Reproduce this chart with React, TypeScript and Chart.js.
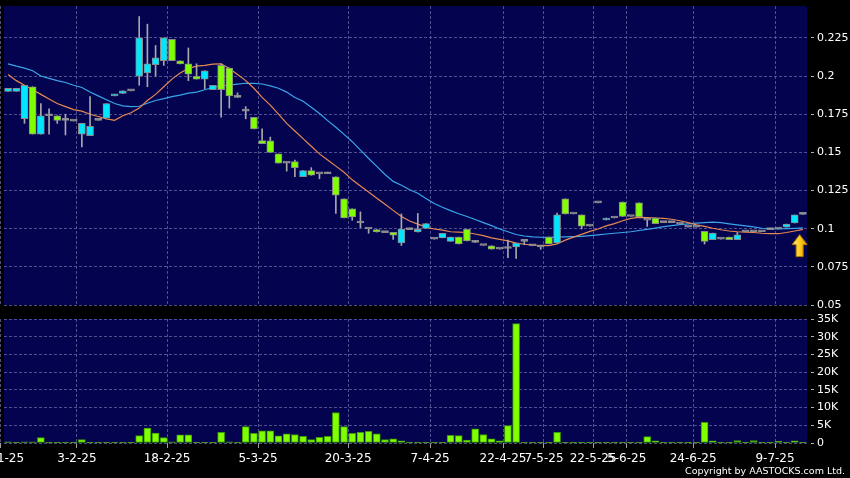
import React, { useEffect, useRef } from 'react';
import { Chart, registerables } from 'chart.js';

Chart.register(...registerables);

// ---- data ----
const opens = [
  0.190, 0.190, 0.172, 0.193, 0.162, 0.174, 0.174, 0.171, 0.1705, 0.162,
  0.161, 0.171, 0.1724, 0.187, 0.1886, 0.1903, 0.200, 0.202, 0.2075, 0.210,
  0.224, 0.210, 0.208, 0.1998, 0.198, 0.191, 0.207, 0.2053, 0.186, 0.177,
  0.173, 0.1577, 0.1575, 0.149, 0.143, 0.144, 0.134, 0.138, 0.136, 0.136,
  0.134, 0.1195, 0.113, 0.1037, 0.0998, 0.0994, 0.0974, 0.0976, 0.0906, 0.0994,
  0.0978, 0.1002, 0.0932, 0.094, 0.0917, 0.0945, 0.0996, 0.091, 0.089, 0.0888,
  0.0866, 0.087, 0.088, 0.0917, 0.0888, 0.088, 0.0945, 0.0906, 0.1195, 0.1096,
  0.109, 0.1017, 0.1169, 0.1057, 0.107, 0.1175, 0.108, 0.117, 0.1055, 0.107,
  0.104, 0.104, 0.103, 0.101, 0.101, 0.0982, 0.0928, 0.0932, 0.0945, 0.0928,
  0.098, 0.098, 0.098, 0.0994, 0.0998, 0.101, 0.1037, 0.1094,
];
const highs = [
  0.192, 0.192, 0.194, 0.193, 0.182, 0.1785, 0.174, 0.175, 0.1705, 0.169,
  0.1866, 0.171, 0.182, 0.188, 0.1903, 0.1903, 0.239, 0.234, 0.220, 0.225,
  0.224, 0.210, 0.2184, 0.208, 0.2035, 0.194, 0.208, 0.2053, 0.189, 0.180,
  0.173, 0.1654, 0.160, 0.149, 0.143, 0.145, 0.138, 0.140, 0.136, 0.137,
  0.134, 0.1195, 0.113, 0.111, 0.0998, 0.0994, 0.0974, 0.0976, 0.1097, 0.0994,
  0.110, 0.1033, 0.0932, 0.097, 0.0945, 0.0945, 0.0996, 0.0915, 0.089, 0.0888,
  0.0866, 0.0925, 0.0906, 0.0917, 0.0888, 0.088, 0.0945, 0.1103, 0.1195, 0.1096,
  0.109, 0.1017, 0.1169, 0.107, 0.107, 0.1175, 0.108, 0.117, 0.1055, 0.107,
  0.104, 0.104, 0.103, 0.101, 0.101, 0.0982, 0.0971, 0.0932, 0.0945, 0.0975,
  0.098, 0.098, 0.098, 0.0994, 0.0998, 0.103, 0.109, 0.1094,
];
const lows = [
  0.190, 0.190, 0.169, 0.162, 0.162, 0.162, 0.169, 0.1614, 0.1705, 0.1535,
  0.161, 0.171, 0.1724, 0.187, 0.1886, 0.1903, 0.194, 0.193, 0.200, 0.207,
  0.210, 0.208, 0.197, 0.198, 0.1917, 0.191, 0.173, 0.179, 0.186, 0.172,
  0.1654, 0.1557, 0.150, 0.143, 0.1377, 0.134, 0.134, 0.135, 0.1327, 0.136,
  0.110, 0.107, 0.1055, 0.1007, 0.097, 0.0978, 0.0974, 0.093, 0.089, 0.0994,
  0.0978, 0.1002, 0.0932, 0.094, 0.0917, 0.090, 0.092, 0.091, 0.089, 0.0866,
  0.0866, 0.081, 0.0805, 0.0895, 0.0888, 0.0865, 0.090, 0.0906, 0.1096, 0.1096,
  0.0998, 0.1017, 0.1169, 0.1057, 0.107, 0.108, 0.108, 0.1077, 0.1015, 0.1033,
  0.104, 0.104, 0.103, 0.101, 0.101, 0.090, 0.0928, 0.0932, 0.0928, 0.0928,
  0.098, 0.098, 0.098, 0.0994, 0.0998, 0.101, 0.1037, 0.1094,
];
const closes = [
  0.192, 0.192, 0.194, 0.162, 0.174, 0.174, 0.171, 0.171, 0.1705, 0.169,
  0.167, 0.171, 0.182, 0.188, 0.1903, 0.1903, 0.225, 0.208, 0.212, 0.225,
  0.210, 0.208, 0.2013, 0.198, 0.2035, 0.194, 0.191, 0.187, 0.186, 0.177,
  0.1654, 0.1557, 0.150, 0.143, 0.143, 0.140, 0.138, 0.135, 0.136, 0.136,
  0.122, 0.107, 0.1077, 0.1037, 0.0998, 0.0978, 0.0974, 0.0958, 0.0998, 0.0994,
  0.0996, 0.1033, 0.0932, 0.097, 0.0945, 0.090, 0.092, 0.091, 0.089, 0.0866,
  0.0866, 0.087, 0.0906, 0.0917, 0.0888, 0.088, 0.090, 0.109, 0.1096, 0.1096,
  0.1017, 0.1017, 0.1169, 0.107, 0.107, 0.108, 0.108, 0.1077, 0.1055, 0.1033,
  0.104, 0.104, 0.103, 0.101, 0.101, 0.0917, 0.0971, 0.0932, 0.0928, 0.096,
  0.098, 0.098, 0.098, 0.0994, 0.0998, 0.103, 0.109, 0.1094,
];
const volumes = [
  300, 50, 300, 300, 1500, 50, 100, 200, 50, 1000,
  50, 50, 50, 50, 50, 50, 2100, 4200, 2800, 1500,
  300, 2300, 2300, 50, 200, 50, 3000, 300, 50, 4600,
  2700, 3400, 3400, 2000, 2600, 2400, 1900, 1000, 1600, 1900,
  8600, 4600, 2700, 3000, 3300, 2600, 1000, 1200, 600, 200,
  50, 50, 50, 200, 2200, 2100, 800, 4000, 2400, 1200,
  600, 4900, 33700, 200, 200, 200, 50, 3000, 100, 50,
  50, 200, 200, 50, 200, 50, 50, 200, 1800, 600,
  50, 50, 50, 100, 100, 5800, 600, 100, 50, 700,
  50, 700, 50, 200, 500, 50, 600, 50,
];
const maShort = [
  0.201, 0.197, 0.194, 0.191, 0.188, 0.185, 0.182, 0.180, 0.178, 0.177,
  0.175, 0.1735, 0.172, 0.171, 0.174, 0.176, 0.179, 0.184, 0.188, 0.193,
  0.198, 0.202, 0.205, 0.2065, 0.207, 0.2078, 0.208, 0.205, 0.201, 0.197,
  0.192, 0.186, 0.181, 0.175, 0.169, 0.164, 0.159, 0.154, 0.149, 0.145,
  0.141, 0.137, 0.132, 0.128, 0.124, 0.120, 0.116, 0.112, 0.108, 0.105,
  0.103, 0.101, 0.0998, 0.099, 0.098, 0.0978, 0.0975, 0.0965, 0.0955, 0.094,
  0.093, 0.092, 0.0905, 0.0898, 0.0893, 0.089, 0.0889, 0.090, 0.0925, 0.0945,
  0.0963, 0.0982, 0.0998, 0.1018, 0.1033, 0.1052, 0.1068, 0.1074, 0.1072, 0.107,
  0.1068, 0.1062, 0.1052, 0.104, 0.1025, 0.1015, 0.1003, 0.0993, 0.0985, 0.098,
  0.0977, 0.0975, 0.097, 0.0967, 0.0967, 0.0975, 0.0985, 0.0995,
];
const maLong = [
  0.208, 0.2065, 0.2052, 0.2035, 0.200, 0.1985, 0.197, 0.1958, 0.194, 0.1925,
  0.1895, 0.187, 0.1845, 0.182, 0.1805, 0.180, 0.1802, 0.1822, 0.184, 0.1852,
  0.1865, 0.1875, 0.1888, 0.1895, 0.191, 0.1925, 0.1935, 0.194, 0.1947, 0.1953,
  0.1952, 0.1948, 0.1936, 0.192, 0.1895, 0.186, 0.1835, 0.1795, 0.1755, 0.1708,
  0.1665, 0.1618, 0.157, 0.1515, 0.146, 0.1408, 0.1355, 0.131, 0.1285, 0.1255,
  0.1232, 0.1198, 0.1165, 0.114, 0.1118, 0.1098, 0.108, 0.106, 0.104, 0.102,
  0.0998, 0.098, 0.0962, 0.0952, 0.0946, 0.0944, 0.0943, 0.0945, 0.0946, 0.0948,
  0.095, 0.0955, 0.096, 0.0965, 0.097, 0.0975, 0.098, 0.0988, 0.0996, 0.1004,
  0.1013, 0.102, 0.1026, 0.1032, 0.1036, 0.104, 0.1043, 0.104, 0.1032, 0.1025,
  0.1018, 0.1012, 0.1003, 0.0998, 0.0998, 0.100, 0.1002, 0.1005,
];
// date tick labels and where they fall, in candle-index units
const xTickLabels = ['17-1-25', '3-2-25', '18-2-25', '5-3-25', '20-3-25', '7-4-25', '22-4-25', '7-5-25', '22-5-25', '5-6-25', '24-6-25', '9-7-25'];
const xTickIdx = [-0.9, 8.4, 19.4, 30.5, 41.5, 51.5, 60.4, 65.4, 71.4, 75.5, 83.6, 93.6];
// latest-price marker (index, top value, bottom value)
const arrowIdx = 96.6;
const arrowTop = 0.0961;
const arrowBottom = 0.0817;

const FONT = 'DejaVu Sans';
const NAVY = '#03034f';
const GRID = 'rgba(105,105,165,0.75)';
const CYAN = '#00e6ff';
const LIME = '#80ff00';

const plotBg = {
  id: 'plotBg',
  beforeDraw(chart: any) {
    const { ctx, chartArea } = chart;
    ctx.save();
    ctx.fillStyle = NAVY;
    ctx.fillRect(chartArea.left, chartArea.top, chartArea.right - chartArea.left, chartArea.bottom - chartArea.top);
    ctx.restore();
  },
};

const arrowPlugin = {
  id: 'arrowMarker',
  afterDatasetsDraw(chart: any) {
    const { ctx } = chart;
    const xs = chart.scales.x;
    const ys = chart.scales.y;
    const cx = xs.getPixelForValue(arrowIdx);
    const top = ys.getPixelForValue(arrowTop);
    const bot = ys.getPixelForValue(arrowBottom);
    const headH = 10;
    const headW = 7.5;
    const shaftW = 3.5;
    ctx.save();
    const g = ctx.createLinearGradient(cx - headW, 0, cx + headW, 0);
    g.addColorStop(0, '#ffe680');
    g.addColorStop(0.5, '#ffcc1a');
    g.addColorStop(1, '#d99a00');
    ctx.beginPath();
    ctx.moveTo(cx, top);
    ctx.lineTo(cx + headW, top + headH);
    ctx.lineTo(cx + shaftW, top + headH);
    ctx.lineTo(cx + shaftW, bot);
    ctx.lineTo(cx - shaftW, bot);
    ctx.lineTo(cx - shaftW, top + headH);
    ctx.lineTo(cx - headW, top + headH);
    ctx.closePath();
    ctx.fillStyle = g;
    ctx.fill();
    ctx.strokeStyle = '#b07800';
    ctx.lineWidth = 1;
    ctx.stroke();
    ctx.restore();
  },
};

function xAxis(showLabels: boolean) {
  return {
    type: 'category' as const,
    offset: true,
    afterBuildTicks(scale: any) {
      scale.ticks = xTickIdx.map((v) => ({ value: v }));
    },
    afterFit(scale: any) {
      scale.paddingLeft = 0;
      scale.paddingRight = 0;
      scale.height = showLabels ? 35 : 0;
    },
    grid: {
      display: true,
      offset: false,
      color: GRID,
      lineWidth: 1,
      drawTicks: showLabels,
      tickLength: 5,
      tickColor: '#a0a0a0',
      tickBorderDash: [],
    },
    border: { display: false, dash: [3, 2] },
    ticks: {
      display: showLabels,
      autoSkip: false,
      maxRotation: 0,
      minRotation: 0,
      padding: 4,
      color: '#ffffff',
      font: { family: FONT, size: 12 },
      callback: (_v: any, i: number) => xTickLabels[i],
    },
  };
}

function yAxisCommon() {
  return {
    position: 'right' as const,
    afterFit(scale: any) {
      scale.width = 43;
      scale.paddingTop = 0;
      scale.paddingBottom = 0;
    },
    grid: {
      color: GRID,
      lineWidth: 1,
      drawTicks: true,
      tickLength: 7,
      tickColor: '#b0b0b0',
      tickBorderDash: [0, 4, 3, 100],
    },
    border: { display: false, dash: [3, 2] },
  };
}

export default function App() {
  const priceRef = useRef<HTMLCanvasElement>(null);
  const volRef = useRef<HTMLCanvasElement>(null);

  useEffect(() => {
    document.body.style.margin = '0';
    document.body.style.background = '#000';
    const labels = closes.map((_, i) => String(i + 1));
    const bodyColors = closes.map((c, i) => (c > opens[i] ? CYAN : c < opens[i] ? LIME : '#a8a8a8'));

    const priceChart = new Chart(priceRef.current as HTMLCanvasElement, {
      type: 'bar',
      data: {
        labels,
        datasets: [
          {
            type: 'bar',
            label: 'body',
            data: opens.map((o, i) => [o, closes[i]]) as any,
            backgroundColor: bodyColors,
            borderColor: '#8a8a8a',
            borderWidth: 1,
            borderSkipped: false,
            barThickness: 7,
            minBarLength: 2,
            grouped: false,
            order: 0,
          } as any,
          {
            type: 'bar',
            label: 'wick',
            data: lows.map((l, i) => [l, highs[i]]) as any,
            backgroundColor: '#a8a8a8',
            borderWidth: 0,
            barThickness: 1,
            grouped: false,
            order: 1,
          } as any,
          {
            type: 'line',
            label: 'MA short',
            data: maShort,
            borderColor: '#e88a50',
            borderWidth: 1.2,
            pointRadius: 0,
            tension: 0,
            order: 2,
          } as any,
          {
            type: 'line',
            label: 'MA long',
            data: maLong,
            borderColor: '#3aa6ea',
            borderWidth: 1.2,
            pointRadius: 0,
            tension: 0,
            order: 3,
          } as any,
        ],
      },
      options: {
        responsive: false,
        animation: false,
        events: [],
        layout: { padding: { left: 4, top: 6, right: 0, bottom: 7 } },
        plugins: { legend: { display: false }, tooltip: { enabled: false } },
        scales: {
          x: xAxis(false) as any,
          y: {
            ...yAxisCommon(),
            min: 0.05,
            max: 0.2459,
            ticks: {
              stepSize: 0.025,
              includeBounds: false,
              padding: 3,
              color: '#ffffff',
              font: { family: FONT, size: 11 },
              callback: (v: any) => String(+Number(v).toFixed(3)),
            },
          } as any,
        },
      },
      plugins: [plotBg, arrowPlugin],
    });

    const volChart = new Chart(volRef.current as HTMLCanvasElement, {
      type: 'bar',
      data: {
        labels,
        datasets: [
          {
            label: 'volume',
            data: volumes,
            backgroundColor: LIME,
            borderColor: '#3c9a00',
            borderWidth: 1,
            borderSkipped: false,
            barThickness: 7,
          } as any,
        ],
      },
      options: {
        responsive: false,
        animation: false,
        events: [],
        layout: { padding: { left: 4, top: 7, right: 0, bottom: 0 } },
        plugins: { legend: { display: false }, tooltip: { enabled: false } },
        scales: {
          x: xAxis(true) as any,
          y: {
            ...yAxisCommon(),
            min: 0,
            max: 35000,
            ticks: {
              stepSize: 5000,
              padding: 3,
              color: '#ffffff',
              font: { family: FONT, size: 11 },
              callback: (v: any) => (Number(v) === 0 ? '0' : Number(v) / 1000 + 'K'),
            },
          } as any,
        },
      },
      plugins: [plotBg],
    });

    return () => {
      priceChart.destroy();
      volChart.destroy();
    };
  }, []);

  return (
    <div style={{ position: 'relative', width: 850, height: 478, background: '#000', overflow: 'hidden' }}>
      <canvas ref={priceRef} width={850} height={312} style={{ position: 'absolute', left: 0, top: 0, width: 850, height: 312 }} />
      <canvas ref={volRef} width={850} height={166} style={{ position: 'absolute', left: 0, top: 312, width: 850, height: 166 }} />
      <div
        style={{
          position: 'absolute',
          right: 5,
          top: 465,
          color: '#ffffff',
          fontFamily: FONT,
          fontSize: 9.5,
          lineHeight: '12px',
          whiteSpace: 'nowrap',
        }}
      >
        Copyright by AASTOCKS.com Ltd.
      </div>
    </div>
  );
}
